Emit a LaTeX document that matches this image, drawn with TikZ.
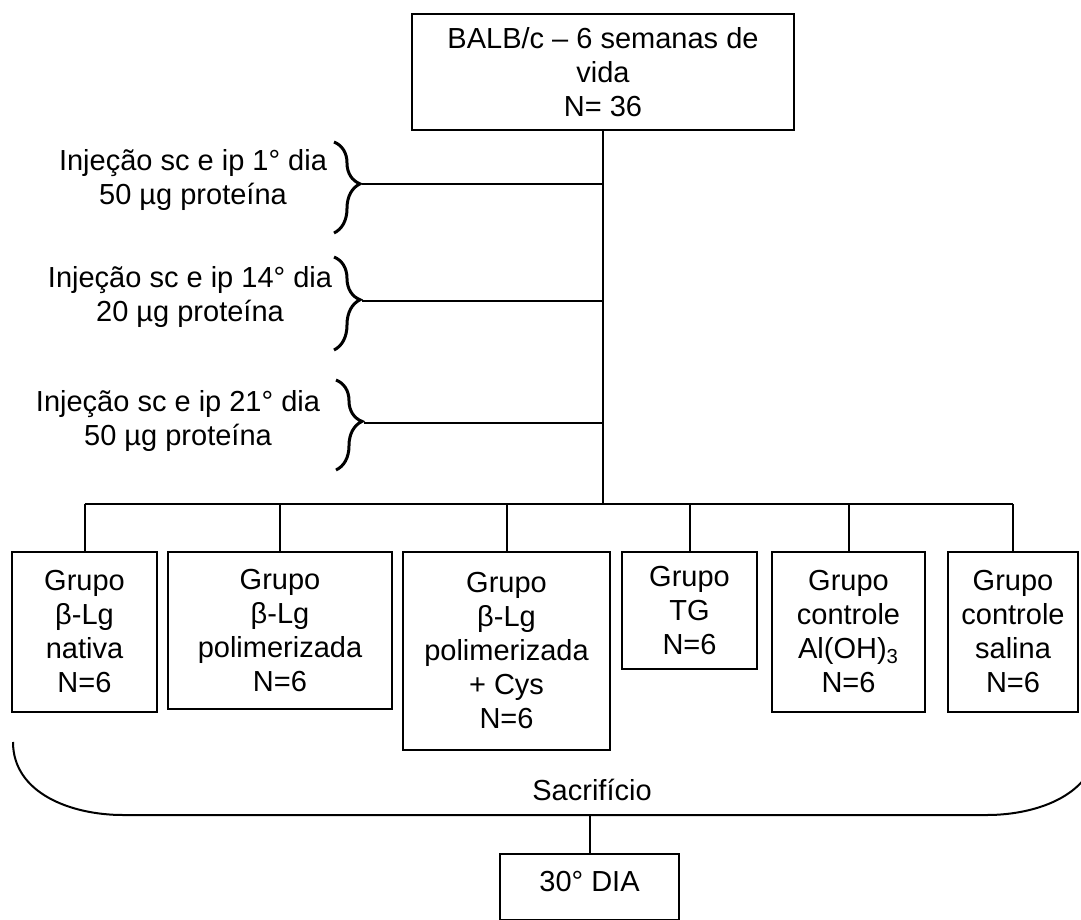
\documentclass[tikz,border=0pt]{standalone}
\usepackage{fontspec}
\setmainfont{Liberation Sans}
\usetikzlibrary{positioning}
\usetikzlibrary{decorations.pathreplacing}

\tikzset{
	caixa/.style={draw, line width=1pt, align=center, anchor=north, inner sep=0pt, font=\fontsize{14.5}{17}\selectfont},
	dose/.style={align=center, font=\fontsize{14.5}{17}\selectfont},
	chave/.style={decorate, decoration={brace, amplitude=13pt, aspect=0.46}, line width=1.5pt},
	linha/.style={line width=1pt}
}

\begin{document}
\begin{tikzpicture}[x=0.5pt, y=-0.5pt]
	\useasboundingbox (0,0) rectangle (1081,920);
	\clip (0,0) rectangle (1081,920);

	\node[caixa, minimum width=191pt, minimum height=58pt] (balb) at (603,13) {BALB/c -- 6 semanas de\\vida\\N= 36};
	\coordinate (barra) at (603,504);

	\node[dose] (d1) at (193,180) {Injeção sc e ip 1° dia\\50 µg proteína};
	\node[dose] (d2) at (190,297) {Injeção sc e ip 14° dia\\20 µg proteína};
	\node[dose] (d3) at (178,421) {Injeção sc e ip 21° dia\\50 µg proteína};

	\coordinate (k1a) at (334,142); \coordinate (k1b) at (334,233); \coordinate (k1) at (362,184);
	\coordinate (k2a) at (334,257); \coordinate (k2b) at (334,350); \coordinate (k2) at (362,301);
	\coordinate (k3a) at (336,380); \coordinate (k3b) at (336,470); \coordinate (k3) at (364,423);

	\node[caixa, minimum width=72.5pt, minimum height=80pt] (g1) at (84.5,551) {Grupo\\β-Lg\\nativa\\N=6};
	\node[caixa, minimum width=112pt, minimum height=78.5pt] (g2) at (280,551) {Grupo\\β-Lg\\polimerizada\\N=6};
	\node[caixa, minimum width=103.5pt, minimum height=99pt] (g3) at (506.5,551) {Grupo\\β-Lg\\polimerizada\\+ Cys\\N=6};
	\node[caixa, minimum width=67.5pt, minimum height=58.5pt] (g4) at (689.5,551) {Grupo\\TG\\N=6};
	\node[caixa, minimum width=76.5pt, minimum height=80pt] (g5) at (848.5,551) {Grupo\\controle\\Al(OH)\textsubscript{3}\\N=6};
	\node[caixa, minimum width=65pt, minimum height=80pt] (g6) at (1013,551) {Grupo\\controle\\salina\\N=6};

	\coordinate (sacL) at (13,742);
	\coordinate (sacR) at (1097,742);
	\coordinate (sac) at (592,815);
	\node[dose] (sacrif) at (592,790) {Sacrifício};
	\node[caixa, minimum width=89.5pt, minimum height=33pt, text height=10pt, text depth=6pt] (dia30) at (589.5,853) {30° DIA};

	\draw[linha] (balb.south) -- (barra);
	\draw[chave] (k1a) -- (k1b);
	\draw[chave] (k2a) -- (k2b);
	\draw[chave] (k3a) -- (k3b);
	\draw[linha] (k1) -- (k1 -| balb.south);
	\draw[linha] (k2) -- (k2 -| balb.south);
	\draw[linha] (k3) -- (k3 -| balb.south);
	\draw[linha] (g1.north |- barra) -- (g6.north |- barra);
	\foreach \g in {g1,g2,g3,g4,g5,g6}
		\draw[linha] (\g.north) -- (\g.north |- barra);
	\draw[linha] (sacL) to[out=-90, in=180] (123,815) -- (987,815) to[out=0, in=-90] (sacR);
	\draw[linha] (sac) -- (dia30.north |- sac) -- (dia30.north);
\end{tikzpicture}
\end{document}
